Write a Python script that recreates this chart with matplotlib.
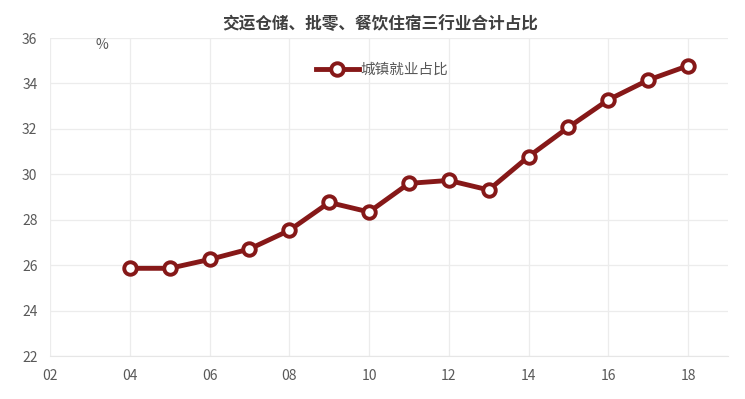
import numpy as np
import matplotlib.pyplot as plt

plt.rcParams['font.family'] = ['Noto Sans CJK SC', 'DejaVu Sans']

# datos
anios = [4, 5, 6, 7, 8, 9, 10, 11, 12, 13, 14, 15, 16, 17, 18]
valores = [25.86, 25.86, 26.25, 26.71, 27.53, 28.76, 28.34, 29.6, 29.73,
           29.31, 30.78, 32.07, 33.28, 34.15, 34.78]
xticks = [2, 4, 6, 8, 10, 12, 14, 16, 18]
xlabels = ['02', '04', '06', '08', '10', '12', '14', '16', '18']
yticks = [22, 24, 26, 28, 30, 32, 34, 36]

rojo = '#861818'
gris = '#595959'

fig = plt.figure(figsize=(7.45, 3.99), dpi=100)
ax = fig.add_axes([50/745, 1-356/399, 678/745, 318/399])

ax.plot(anios, valores, color=rojo, linewidth=3.5, marker='o', markersize=9,
        markerfacecolor='white', markeredgecolor=rojo, markeredgewidth=2.8,
        label='城镇就业占比', zorder=3)

ax.set_xlim(2, 19)
ax.set_ylim(22, 36)
ax.set_xticks(xticks)
ax.set_xticklabels(xlabels)
ax.set_yticks(yticks)
ax.grid(True, color='#ececec', linewidth=0.9)
ax.tick_params(length=0, colors=gris, labelsize=10, pad=9)
for s in ['top', 'right', 'left']:
    ax.spines[s].set_visible(False)
ax.spines['bottom'].set_color('#e6e6e6')

# etiqueta de unidades
fig.text(102/745, 1-45/399, '%', ha='center', va='center', fontsize=10, color=gris)

fig.text(380/745, 1-24/399, '交运仓储、批零、餐饮住宿三行业合计占比', ha='center', va='center',
         fontsize=12, fontweight='bold', color='#404040')

leg = ax.legend(loc='center', bbox_to_anchor=(382/745, 1-70/399), bbox_transform=fig.transFigure,
                frameon=False, fontsize=10.5, handlelength=3, handletextpad=0.1)
for t in leg.get_texts():
    t.set_color(gris)

plt.savefig('out.png', dpi=100)
